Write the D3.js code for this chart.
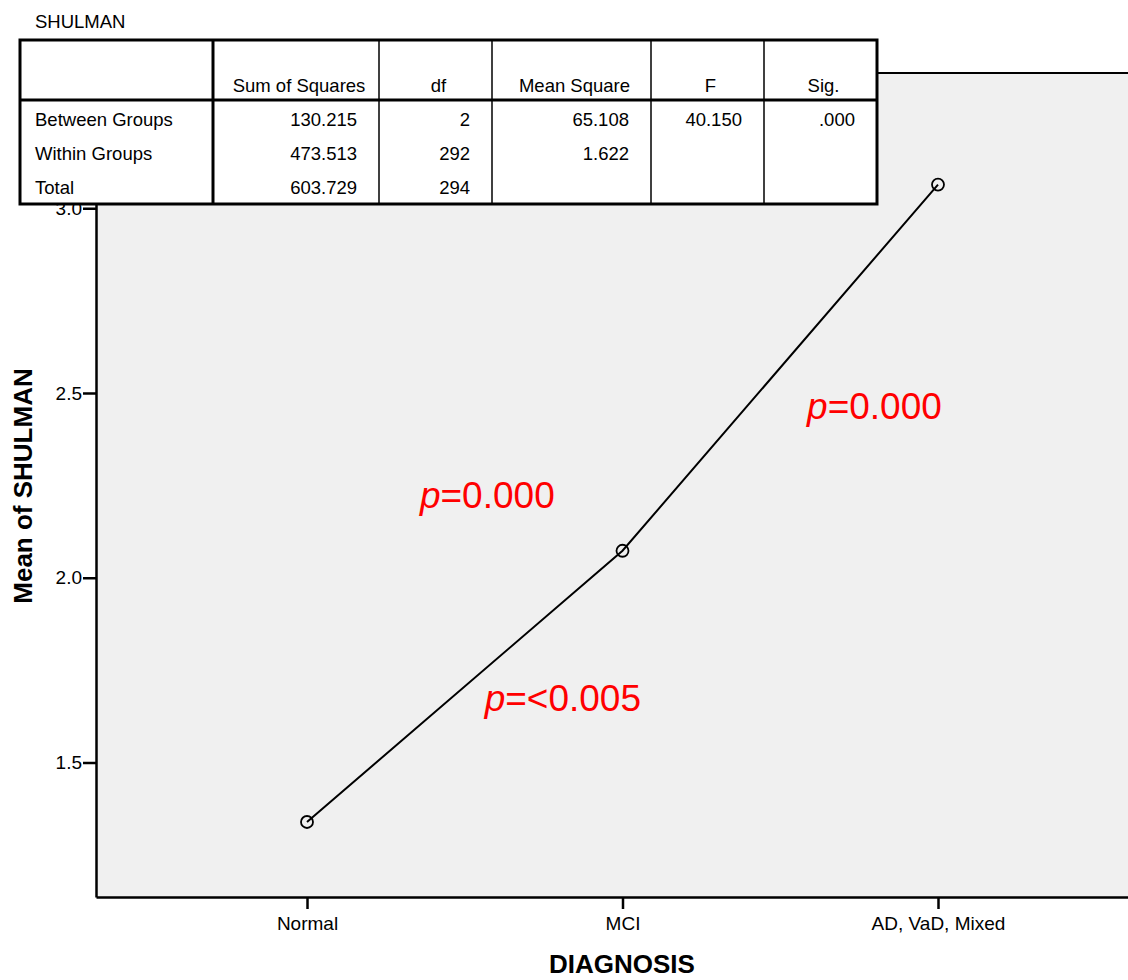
<!DOCTYPE html>
<html>
<head>
<meta charset="utf-8">
<script src="https://cdn.jsdelivr.net/npm/d3@7"></script>
<style>
  html, body { margin: 0; padding: 0; background: #ffffff; }
  svg { display: block; font-family: "Liberation Sans", Arial, sans-serif; }
</style>
</head>
<body>
<svg id="chart" width="1128" height="980"></svg>
<script>
// ---------- data ----------
const categories = ["Normal", "MCI", "AD, VaD, Mixed"];
const meanShulman = [1.339, 2.073, 3.064];
const yTicks = [1.5, 2.0, 2.5, 3.0];

const tableTitle = "SHULMAN";
const tableHeaders = ["", "Sum of Squares", "df", "Mean Square", "F", "Sig."];
const sourceRows = ["Between Groups", "Within Groups", "Total"];
const sumOfSquares = ["130.215", "473.513", "603.729"];
const dfValues = ["2", "292", "294"];
const meanSquares = ["65.108", "1.622", ""];
const fValues = ["40.150", "", ""];
const sigValues = [".000", "", ""];

const pLabels = ["=0.000", "=0.000", "=<0.005"];

// ---------- layout ----------
const svg = d3.select("#chart");
const plot = { left: 96, top: 73, right: 1149, bottom: 897 };

const x = d3.scalePoint().domain(categories).range([plot.left, plot.right]).padding(0.6688);
const y = d3.scaleLinear().domain([1.136, 3.366]).range([plot.bottom, plot.top]);

// plot background
svg.append("rect")
  .attr("x", plot.left).attr("y", plot.top)
  .attr("width", plot.right - plot.left).attr("height", plot.bottom - plot.top)
  .attr("fill", "#f0f0f0");
// top border of frame
svg.append("line")
  .attr("x1", plot.left).attr("x2", plot.right)
  .attr("y1", plot.top).attr("y2", plot.top)
  .attr("stroke", "#000").attr("stroke-width", 2);

// axes
const yAxis = svg.append("g")
  .attr("transform", `translate(${plot.left},0)`)
  .call(d3.axisLeft(y).tickValues(yTicks).tickFormat(d3.format(".1f")).tickSize(13).tickSizeOuter(0).tickPadding(1));
yAxis.select(".domain").attr("stroke-width", 2.5);
yAxis.selectAll(".tick line").attr("stroke-width", 2.5);
yAxis.selectAll(".tick text").attr("font-size", 19).attr("font-family", "Liberation Sans, Arial, sans-serif").attr("fill", "#000");

const xAxis = svg.append("g")
  .attr("transform", `translate(0,${plot.bottom})`)
  .call(d3.axisBottom(x).tickSize(12).tickSizeOuter(0).tickPadding(8));
xAxis.select(".domain").attr("stroke-width", 2.5);
xAxis.selectAll(".tick line").attr("stroke-width", 2.5);
xAxis.selectAll(".tick text").attr("font-size", 19).attr("font-family", "Liberation Sans, Arial, sans-serif").attr("fill", "#000");

// axis titles
svg.append("text")
  .attr("transform", "rotate(-90)")
  .attr("x", -486).attr("y", 32)
  .attr("text-anchor", "middle")
  .attr("font-size", 26).attr("font-weight", "bold")
  .text("Mean of SHULMAN");
svg.append("text")
  .attr("x", 622).attr("y", 973)
  .attr("text-anchor", "middle")
  .attr("font-size", 26).attr("font-weight", "bold")
  .text("DIAGNOSIS");

// line + markers
const pts = categories.map((c, i) => [x(c), y(meanShulman[i])]);
svg.append("path")
  .datum(pts)
  .attr("d", d3.line())
  .attr("fill", "none").attr("stroke", "#000").attr("stroke-width", 2);
svg.selectAll("circle.pt").data(pts).join("circle")
  .attr("class", "pt")
  .attr("cx", d => d[0]).attr("cy", d => d[1]).attr("r", 6)
  .attr("fill", "none").attr("stroke", "#000").attr("stroke-width", 1.8);

// p-value annotations (placed in data space: category-fraction, value)
const pLayout = [
  { xFrom: 0, xTo: 1, t: 0.358, v: 2.190 },
  { xFrom: 1, xTo: 2, t: 0.585, v: 2.429 },
  { xFrom: 0, xTo: 1, t: 0.563, v: 1.640 }
];
pLayout.forEach((p, i) => {
  const px = x(categories[p.xFrom]) + p.t * (x(categories[p.xTo]) - x(categories[p.xFrom]));
  const t = svg.append("text")
    .attr("x", px).attr("y", y(p.v))
    .attr("font-size", 37).attr("fill", "#ff0000");
  t.append("tspan").attr("font-style", "italic").text("p");
  t.append("tspan").text(pLabels[i]);
});

// ---------- ANOVA table ----------
svg.append("text").attr("x", 35).attr("y", 28).attr("font-size", 18.5).text(tableTitle);

const colX = [20, 213, 379, 492, 651, 764, 877];
const tTop = 40, tHeadBottom = 100, tBottom = 204;
const rowBase = [126, 160, 194];

svg.append("rect")
  .attr("x", colX[0]).attr("y", tTop)
  .attr("width", colX[6] - colX[0]).attr("height", tBottom - tTop)
  .attr("fill", "#fff");

// inner column lines
colX.slice(2, 6).forEach(cx => {
  svg.append("line").attr("x1", cx).attr("x2", cx).attr("y1", tTop).attr("y2", tBottom)
    .attr("stroke", "#000").attr("stroke-width", 1.5);
});
// thick first separator
svg.append("line").attr("x1", colX[1]).attr("x2", colX[1]).attr("y1", tTop).attr("y2", tBottom)
  .attr("stroke", "#000").attr("stroke-width", 3);
// header bottom
svg.append("line").attr("x1", colX[0]).attr("x2", colX[6]).attr("y1", tHeadBottom).attr("y2", tHeadBottom)
  .attr("stroke", "#000").attr("stroke-width", 3);
// outer border
svg.append("rect")
  .attr("x", colX[0]).attr("y", tTop)
  .attr("width", colX[6] - colX[0]).attr("height", tBottom - tTop)
  .attr("fill", "none").attr("stroke", "#000").attr("stroke-width", 3);

const fs = 18.5;
tableHeaders.forEach((h, i) => {
  if (!h) return;
  svg.append("text")
    .attr("x", (colX[i] + colX[i + 1]) / 2 + 3).attr("y", 92)
    .attr("text-anchor", "middle").attr("font-size", fs).text(h);
});
const cols = [sumOfSquares, dfValues, meanSquares, fValues, sigValues];
sourceRows.forEach((r, ri) => {
  svg.append("text").attr("x", 35).attr("y", rowBase[ri]).attr("font-size", fs).text(r);
  cols.forEach((col, ci) => {
    if (!col[ri]) return;
    svg.append("text")
      .attr("x", colX[ci + 2] - 22).attr("y", rowBase[ri])
      .attr("text-anchor", "end").attr("font-size", fs).text(col[ri]);
  });
});
</script>
</body>
</html>
